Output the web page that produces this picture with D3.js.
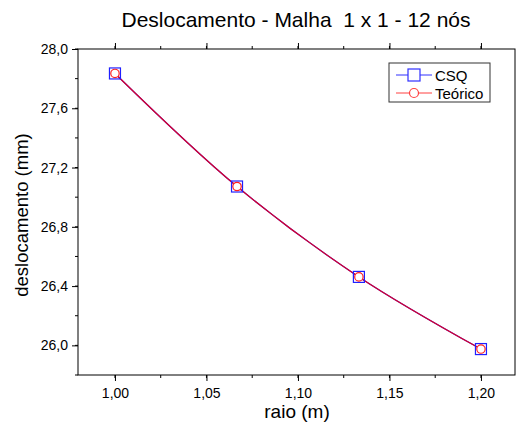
<!DOCTYPE html>
<html>
<head>
<meta charset="utf-8">
<script src="https://cdn.jsdelivr.net/npm/d3@7"></script>
<style>
  body { margin: 0; background: #fff; }
  svg { font-family: "Liberation Sans", Arial, sans-serif; }
</style>
</head>
<body>
<svg id="chart" width="517" height="431"></svg>
<script>
// data
const raio = [1.0, 1.0667, 1.1333, 1.2];
const csq = [27.835, 27.072, 26.462, 25.975];
const teorico = [27.835, 27.072, 26.462, 25.975];
const xTicks = [1.0, 1.05, 1.1, 1.15, 1.2];
const yTicks = [26.0, 26.4, 26.8, 27.2, 27.6, 28.0];

const svg = d3.select('#chart');
const plotL = 78, plotR = 515, plotT = 49, plotB = 375;

const x = d3.scaleLinear().domain([0.9798, 1.2186]).range([plotL, plotR]);
const y = d3.scaleLinear().domain([25.8, 28.0]).range([plotB, plotT]);

const fmt = d => d3.format('.2f')(d).replace('.', ',');
const fmtY = d => d3.format('.1f')(d).replace('.', ',');

// minor ticks
const xMinor = d3.range(0.975, 1.22, 0.025).filter(v => v > 0.9798 && v < 1.2186);
const yMinor = d3.range(25.8, 28.01, 0.2);

// frame
svg.append('rect')
  .attr('x', plotL).attr('y', plotT)
  .attr('width', plotR - plotL).attr('height', plotB - plotT)
  .attr('fill', 'none').attr('stroke', '#000').attr('stroke-width', 1);

// bottom axis
const xAxis = svg.append('g').attr('transform', `translate(0,${plotB})`)
  .call(d3.axisBottom(x).tickValues(xTicks).tickFormat(fmt).tickSize(6).tickPadding(7));
xAxis.select('.domain').remove();
xAxis.selectAll('text').style('font-size', '14px').attr('fill', '#000');
xAxis.selectAll('.minor').data(xMinor).join('line')
  .attr('class', 'minor')
  .attr('x1', d => x(d)).attr('x2', d => x(d))
  .attr('y1', 0).attr('y2', 3).attr('stroke', '#000');

// top mirror ticks
const xTop = svg.append('g').attr('transform', `translate(0,${plotT})`)
  .call(d3.axisTop(x).tickValues(xTicks).tickFormat('').tickSize(6));
xTop.select('.domain').remove();
xTop.selectAll('.minor').data(xMinor).join('line')
  .attr('class', 'minor')
  .attr('x1', d => x(d)).attr('x2', d => x(d))
  .attr('y1', 0).attr('y2', -3).attr('stroke', '#000');

// left axis
const yAxis = svg.append('g').attr('transform', `translate(${plotL},0)`)
  .call(d3.axisLeft(y).tickValues(yTicks).tickFormat(fmtY).tickSize(6).tickPadding(4));
yAxis.select('.domain').remove();
yAxis.selectAll('text').style('font-size', '14px').attr('fill', '#000');
yAxis.selectAll('.minor').data(yMinor).join('line')
  .attr('class', 'minor')
  .attr('x1', 0).attr('x2', -3)
  .attr('y1', d => y(d)).attr('y2', d => y(d)).attr('stroke', '#000');

// titles
svg.append('text')
  .attr('x', 296).attr('y', 27)
  .attr('text-anchor', 'middle')
  .style('font-size', '21px')
  .style('white-space', 'pre')
  .text('Deslocamento - Malha  1 x 1 - 12 nós');

svg.append('text')
  .attr('x', 297).attr('y', 418)
  .attr('text-anchor', 'middle')
  .style('font-size', '19px')
  .text('raio (m)');

svg.append('text')
  .attr('transform', `translate(28,215) rotate(-90)`)
  .attr('text-anchor', 'middle')
  .style('font-size', '18.5px')
  .text('deslocamento (mm)');

// lines
const line = d3.line().curve(d3.curveCatmullRom)
  .x((d, i) => x(raio[i])).y(d => y(d));

svg.append('path').datum(csq)
  .attr('d', line).attr('fill', 'none')
  .attr('stroke', '#0000ff').attr('stroke-width', 1.2);
svg.append('path').datum(teorico)
  .attr('d', line).attr('fill', 'none')
  .attr('stroke', '#ff0000').attr('stroke-width', 1.2).attr('opacity', 0.85);

// markers
svg.selectAll('rect.sq').data(csq).join('rect')
  .attr('class', 'sq')
  .attr('x', (d, i) => x(raio[i]) - 5.5).attr('y', d => y(d) - 5.5)
  .attr('width', 11).attr('height', 11)
  .attr('fill', 'none').attr('stroke', '#2020ff').attr('stroke-width', 1.2);

svg.selectAll('circle.ci').data(teorico).join('circle')
  .attr('class', 'ci')
  .attr('cx', (d, i) => x(raio[i])).attr('cy', d => y(d))
  .attr('r', 4.2)
  .attr('fill', '#fff').attr('stroke', '#ff2020').attr('stroke-width', 1.2);

// legend
const legend = svg.append('g').attr('transform', 'translate(389,63)');
legend.append('rect')
  .attr('width', 101).attr('height', 39)
  .attr('fill', '#fff').attr('stroke', '#333').attr('stroke-width', 1);

const items = [
  { name: 'CSQ', color: '#3030ff', shape: 'square' },
  { name: 'Teórico', color: '#ff4040', shape: 'circle' }
];
legend.selectAll('g.item').data(items).join('g')
  .attr('class', 'item')
  .attr('transform', (d, i) => `translate(0,${12 + i * 18})`)
  .each(function(d) {
    const g = d3.select(this);
    g.append('line')
      .attr('x1', 7).attr('x2', 43).attr('y1', 0).attr('y2', 0)
      .attr('stroke', d.color).attr('stroke-width', 1);
    if (d.shape === 'square') {
      g.append('rect').attr('x', 19).attr('y', -6).attr('width', 12).attr('height', 12)
        .attr('fill', '#fff').attr('stroke', d.color).attr('stroke-width', 1.2);
    } else {
      g.append('circle').attr('cx', 25).attr('cy', 0).attr('r', 4.5)
        .attr('fill', '#fff').attr('stroke', d.color).attr('stroke-width', 1.2);
    }
    g.append('text')
      .attr('x', 46).attr('y', 5.5)
      .style('font-size', '15px')
      .text(d.name);
  });
</script>
</body>
</html>
